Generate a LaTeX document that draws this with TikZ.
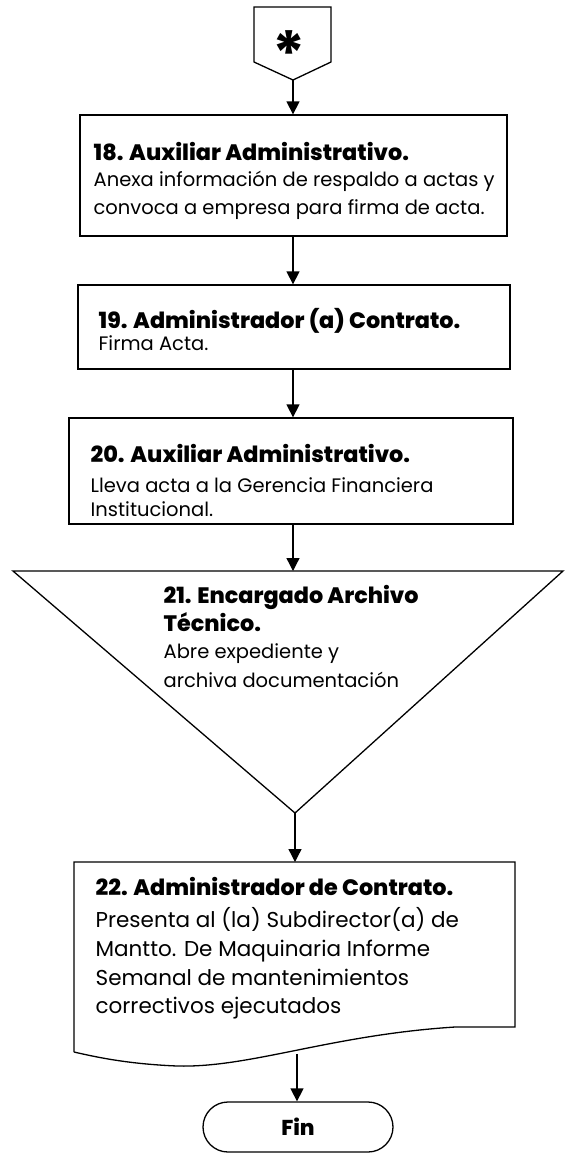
\documentclass[tikz,border=0pt]{standalone}
\usepackage{fontspec}
\setmainfont{Poppins}
\IfFontExistsTF{Poppins ExtraBold}{\newfontfamily\ttlfont{Poppins ExtraBold}}{%
  \newcommand\ttlfont{\bfseries}}
\usetikzlibrary{arrows.meta,calc,shapes.misc}
\begin{document}
\begin{tikzpicture}[x=1pt,y=-1pt,
  line width=1.3pt,
  flow/.style={-{Triangle[length=13pt,width=13pt]}},
  boxstyle/.style={draw,rectangle,inner sep=0pt},
  ttl/.style={anchor=base west,inner sep=0pt,font=\fontsize{22.3}{28}\selectfont\ttlfont},
  bdy/.style={anchor=base west,inner sep=0pt,font=\fontsize{19.5}{28}\selectfont},
  bdyb/.style={anchor=base west,inner sep=0pt,font=\fontsize{21.5}{28}\selectfont},
  finstyle/.style={draw,rounded rectangle,minimum width=190pt,minimum height=50pt,inner sep=0pt,font=\fontsize{21.5}{24}\selectfont\ttlfont}]
\useasboundingbox (0,0) rectangle (565,1157);

% off-page connector
\draw (254,7) -- (331,7) -- (331,62) -- (293,80) -- (254,62) -- cycle;
\coordinate (opc) at (293,80);
\node[inner sep=0pt,font=\fontsize{62}{62}\selectfont\bfseries] (star) at (289,54) {*};

% box 18
\node[boxstyle,minimum width=427pt,minimum height=121pt] (b18) at (293.5,175.5) {};
\node[ttl] (t18) at (93,160) {18. Auxiliar Administrativo.};
\node[bdy] (t18a) at (93,186) {Anexa información de respaldo a actas y};
\node[bdy] (t18b) at (93,214) {convoca a empresa para firma de acta.};

% box 19
\node[boxstyle,minimum width=432pt,minimum height=84pt] (b19) at (294,327) {};
\node[ttl] (t19) at (98,328) {19. Administrador (a) Contrato.};
\node[bdy] (t19a) at (98,350) {Firma Acta.};

% box 20
\node[boxstyle,minimum width=444pt,minimum height=106pt] (b20) at (291,471) {};
\node[ttl] (t20) at (90,462) {20. Auxiliar Administrativo.};
\node[bdy] (t20a) at (90,492) {Lleva acta a la Gerencia Financiera};
\node[bdy] (t20b) at (90,516) {Institucional.};

% triangle 21
\coordinate (tl) at (13,571);
\coordinate (tr) at (563,571);
\coordinate (ttop) at (293,571);
\coordinate (tap) at (295,813);
\draw (tl) -- (tr) -- (tap) -- cycle;
\node[ttl] (t21) at (163,603) {21. Encargado Archivo};
\node[ttl] (t21b) at (163,631) {Técnico.};
\node[bdy] (t21c) at (163,658) {Abre expediente y};
\node[bdy] (t21d) at (163,687) {archiva documentación};

% box 22 (document)
\coordinate (d1) at (74,862);
\coordinate (d2) at (515,862);
\coordinate (d3) at (515,1027);
\coordinate (d4) at (74,1052);
\coordinate (dtop) at (295,862);
\coordinate (dwave) at (297,1054);
\draw (d4) -- (d1) -- (d2) -- (d3) -- (455,1027)
  .. controls (330,1035) and (250,1068) .. (177,1066)
  .. controls (130,1064) and (100,1058) .. (d4);
\node[ttl] (t22) at (95,895) {22. Administrador de Contrato.};
\node[bdyb] (t22a) at (95,927) {Presenta al (la) Subdirector(a) de};
\node[bdyb] (t22b) at (95,956) {Mantto. De Maquinaria Informe};
\node[bdyb] (t22c) at (95,985) {Semanal de mantenimientos};
\node[bdyb] (t22d) at (95,1013) {correctivos ejecutados};

% fin
\node[finstyle] (fin) at (298,1127) {Fin};

% connectors
\draw[flow] (opc) -- (opc |- b18.north);
\draw[flow] (b18.south -| opc) -- (opc |- b19.north);
\draw[flow] (b19.south -| opc) -- (opc |- b20.north);
\draw[flow] (b20.south -| ttop) -- (ttop);
\draw[flow] (tap) -- (tap |- dtop);
\draw[flow] (dwave) -- (dwave |- fin.north);
\end{tikzpicture}
\end{document}
